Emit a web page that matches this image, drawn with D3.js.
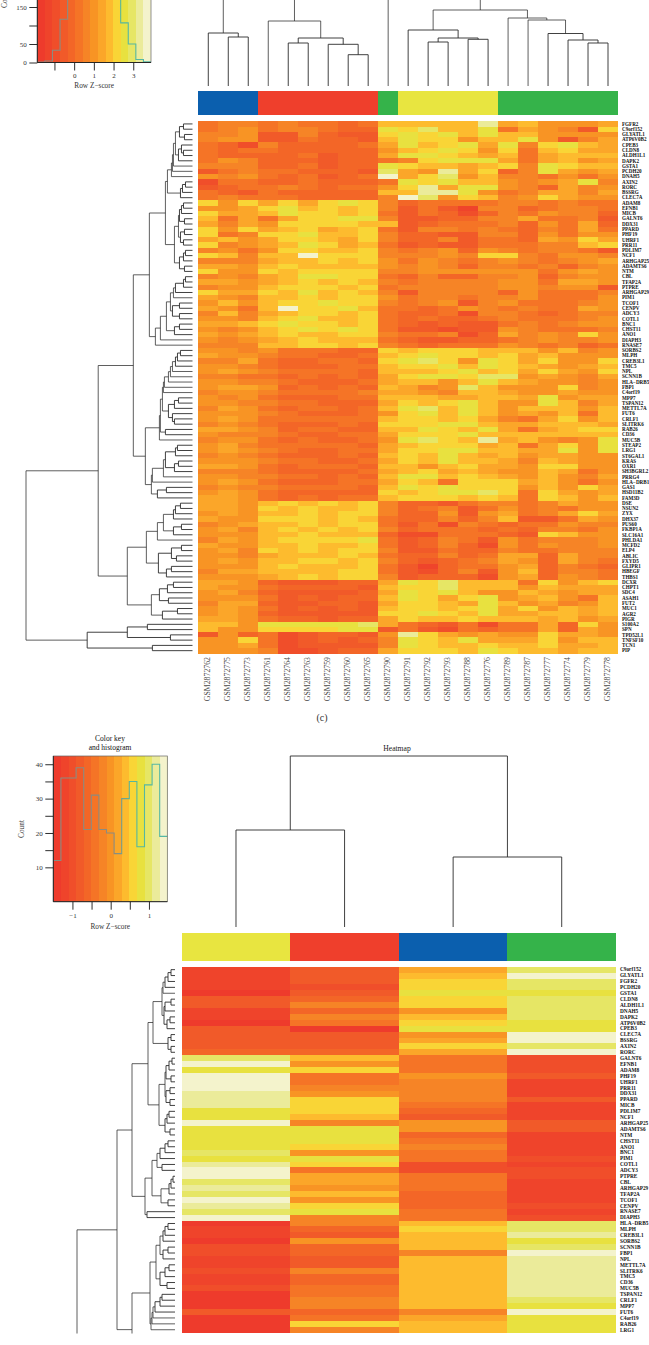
<!DOCTYPE html>
<html><head><meta charset="utf-8">
<script src="https://cdnjs.cloudflare.com/ajax/libs/d3/7.8.5/d3.min.js"></script>
<style>
html,body{margin:0;padding:0;background:#fff;overflow:hidden}
svg{display:block;opacity:.999}
text{font-family:"Liberation Serif",serif}
</style></head><body><svg id="c" width="649" height="1345"></svg>
<script>
// colour levels, low to high z-score
const palette=["#ee3b2c","#ef442b","#f04e2a","#f15a29","#f36627","#f57426","#f68426","#f89424","#fba629","#fdbb2e","#f9d536","#e8e13f","#e6e665","#ebeb9a","#f4f3cc"];

const topSamples=["GSM2872762","GSM2872775","GSM2872773","GSM2872761","GSM2872764","GSM2872763","GSM2872759","GSM2872760","GSM2872765","GSM2872790","GSM2872791","GSM2872792","GSM2872793","GSM2872788","GSM2872776","GSM2872789","GSM2872787","GSM2872777","GSM2872774","GSM2872779","GSM2872778"];
const topGroups=["#0b5fae","#0b5fae","#0b5fae","#ef3f2c","#ef3f2c","#ef3f2c","#ef3f2c","#ef3f2c","#ef3f2c","#35b34a","#e8e540","#e8e540","#e8e540","#e8e540","#e8e540","#35b34a","#35b34a","#35b34a","#35b34a","#35b34a","#35b34a"];
const topGenes=["FGFR2","C9orf152","GLYATL1","ATP6V0B2","CPEB3","CLDN8","ALDH1L1","DAPK2","GSTA1","PCDH20","DNAH5","AXIN2","RORC","BSSRG","CLEC7A",
"ADAM8","EFNB1","MICB","GALNT6","DDX31","PPARD","PHF19","UHRF1","PRR11","PDLIM7","NCF1","ARHGAP25","ADAMTS6","NTM","CBL","TFAP2A","PTPRE","ARHGAP29","PIM1","TCOF1","CENPV","ADCY3","COTL1","BNC1","CHST11","ANO1","DIAPH3","RNASE7",
"SORBS2","MLPH","CREB3L1","TMC5","NPL","SCNN1B","HLA\u2212DRB5","FBP1","C4orf19","MPP7","TSPAN12","METTL7A","FUT6","CRLF1","SLITRK6","RAB26","CD36","MUC5B","STEAP2","LRG1","ST6GAL1","KRAS","OXR1","SH3BGRL2","PRRG4","HLA\u2212DRB1","GAS1","HSD11B2","FAM3D",
"DSE","NSUN2","ZYX","DHX37","PUS60","FKBP1A","SLC16A1","PHLDA1","MCFD2","ELP4","ABLIC","FXYD5","GLIPR1","HBEGF","THBS1",
"DCXR","CHPT1","SDC4","ASAH1","FUT2","MUC1","AGR2","PIGR","S100A2","SPN","TPD52L1","TNFSF10","TCN1","PIP"];
const topLevels=[
"566 565 545 9 9999d 897778","567 566 544 b ac99b 58763a","667 336 433 a bab9b 997777","677 335 443 9 baa79 9b7368","542 644 445 8 b9ab8 b6ab98",
"545 544 444 7 9aba7 a59a88","544 445 344 8 bba98 958999","576 444 344 5 6abbb 858978","666 445 344 b a9989 a6ba99","356 554 443 c 87d8a 46b878",
"767 545 345 e 8ac79 665757","255 445 444 5 bab99 7678b6","345 565 455 7 ad8bb 764867","543 544 444 9 9ddb7 568868","565 554 444 6 ec7a9 67a877",
"a7a 8a8 aba 6 45555 665655","778 ab9 a9a 6 35316 645665","a88 9ba a9a 5 35424 657664","958 58a abb 6 33446 685563","868 7aa aa9 9 34555 647584",
"a7a 89a 89a 5 36656 546585","a56 aab 99a 6 44336 647577","897 8aa 98a 6 44635 5487a8","a67 89b a89 5 34335 55669a","675 7aa 99a 6 56747 656653",
"a96 99e aaa 6 6676a a65776","666 899 a9a 7 57656 765678","887 9a9 999 7 67646 656467","a77 a9a aaa 6 67777 775787","676 89b baa 5 46446 674677",
"887 89a 9a9 6 56666 775887","677 9aa a9a 5 66666 776773","a88 a9b 9a9 6 36666 475556","876 99a 9aa 7 56656 675557","797 9aa baa 6 56736 755567",
"875 9ea ab9 5 54576 565587","696 89a a9a 5 44526 654566","776 9ab 99a 5 45445 655567","889 aba a9a 5 43433 565677","767 9ab aba 5 33233 765556",
"878 9a9 9aa 6 55624 8676a7","767 89a 999 5 43344 567667","666 99a a9a 6 54555 765645",
"776 755 544 a 9aaa9 997967","877 655 445 9 abaa9 a89777","668 544 554 a bca7b a8a77a","776 544 455 9 aab9b a98789","787 655 554 9 99ab9 a8a87a",
"665 545 454 8 abbac c78768","776 654 445 8 9979b 987767","788 745 454 9 867c9 777a67","677 655 556 8 87699 877877","767 544 455 9 99889 98b788",
"776 655 444 8 a9ab9 77b968","687 545 545 9 bc9b9 799979","777 654 445 7 ab9b9 787959","787 555 555 9 aa9a8 658a79","676 544 454 a aabb9 889998",
"887 645 544 9 9ba9b 8589aa","766 654 455 8 aaab9 999999","677 545 445 7 bca9d 89767b","786 555 554 8 9aaa8 958a7b","787 654 455 8 aabb9 988b7b",
"676 544 454 9 a9b98 978877","777 655 445 8 a9b99 869877","887 545 554 9 979a8 87aa77","666 544 445 8 9a898 779857","776 655 454 9 bb9a9 879768",
"787 544 455 8 a95aa a89757","676 655 554 9 babaa a797a8","787 544 444 a 9abbc a5a878","887 545 455 9 aaa9a 95a979",
"887 9a9 a9a 6 44356 656877","887 a9a 99a 6 45635 756577","787 99a 9aa 6 44737 8568a8","877 aaa 9a9 5 44646 933587","678 99a 9aa 5 35265 455766",
"786 9a9 a9a 6 45554 546657","777 99a 999 4 22555 43a977","687 9aa aab 5 34653 756667","877 99a 99a 5 34642 757667","786 a9a 9aa 6 33544 655666",
"776 899 9a9 5 44645 884866","787 99a a9a 6 43456 874865","777 9a9 99a 5 31455 784654","688 999 9aa 5 32463 794665","777 89a 9aa 6 34442 784765",
"887 433 344 8 bac99 95a79a","877 544 443 9 aac99 979888","786 433 334 8 bab97 798788","777 534 344 9 ba8ab 789759","688 433 443 8 aa98b 978679",
"787 534 343 9 aa9ab 8a7989","787 433 333 a aba9b 889989","887 544 344 8 a99a9 998978","997 bbb bbc 8 54352 5584a7","977 aaa abb 3 53254 558487",
"374 523 443 7 da878 77a887","77a 523 434 6 ba9b8 88a799","778 523 333 6 ba99a 99a889","777 622 344 8 aaa9b a99899"
];
// nested merges: [height, left, right]; 0 marks a leaf, leaves run in row / column order
const topColTree=[150,[120,[100,[53,0,[49,0,0]],[65,0,[48,[43,0,0],[41.7,0,[31.3,0,0]]]]],0],
 [76,[56,0,[48,[44,0,0],[46.7,0,0]]],[68,0,[66,0,[52.5,0,[46,0,[43,0,0]]]]]]];
const topRowTree=[166,[94,[59,[43,
  [27,[25,[21,[20,[19,[17,[13,[9,0,0],[8,0,0]],[14,[11,0,[9,0,0]],0]],0],0],0],[12,[10,[7,0,0],0],0]],
      [18,[14,[13,[11,[9,0,0],0],[8,0,0]],[12,[8,0,0],[9,0,0]]],[13,[9,[7,0,0],0],[8,0,0]]]],
  [37,[32,[26,[22,[19,[17,[9,[7,0,0],0],0],0],[20,[13,0,0],[13,0,0]]],[18,[13,0,0],0]],0],0]],
 [47,[33,[32,[30,[29,[28,[24,[22,[20,[17,[15,[12,0,0],0],0],0],0],0],0],0],[24,[18,[14,0,0],0],[20,0,[18,0,0]]]],[27,0,0]],0],
     [41,[40,[29,[27,[17,[15,0,0],0],[18,[14,0,0],0]],0],0],[35,[26,0,0],0]]]],
 [65,[46,[35,[29,[19,[17,[12,0,0],0],0],[19,[11,0,0],0]],0],[34,[21,[11,0,0],[16,0,0]],[26,[21,0,0],0]]],
     [41,[33,[25,[19,0,0],0],[24,0,0]],[30,[15,0,0],0]]]],
 [105,[65,[45,0,0],[22,0,0]],[40,0,0]]];

const botGroups=["#e8e540","#ef3f2c","#0b5fae","#35b34a"];
const botGenes=["C9orf152","GLYATL1","FGFR2","PCDH20","GSTA1","CLDN8","ALDH1L1","DNAH5","DAPK2","ATP6V0B2","CPEB3","CLEC7A","BSSRG","AXIN2","RORC",
"GALNT6","EFNB1","ADAM8","PHF19","UHRF1","PRR11","DDX31","PPARD","MICB","PDLIM7","NCF1","ARHGAP25","ADAMTS6","NTM","CHST11","ANO1","BNC1","PIM1","COTL1","ADCY3","PTPRE","CBL","ARHGAP29","TFAP2A","TCOF1","CENPV","RNASE7","DIAPH3",
"HLA\u2212DRB5","MLPH","CREB3L1","SORBS2","SCNN1B","FBP1","NPL","METTL7A","SLITRK6","TMC5","CD36","MUC5B","TSPAN12","CRLF1","MPP7","FUT6","C4orf19","RAB26","LRG1"];
const botLevels=[
"138c","139e","13ac","12ac","03bb","34ac","36ac","147c","169c","05ab","30bb","337e","338e","33ac","448e",
"c952","e752","ba52","e573","e561","e661","d761","da63","da51","ba41","b931","e673","bb73","bb41","bb51","ba61",
"c751","bb52","da21","e522","e852","c851","d751","c941","e741","da42","cb51","e652",
"069c","14ac","139d","079b","249c","246e","139d","139d","269d","149d","149d","259d","059d","069c","069b","346e","058b","0a9b","069b"
];
const botColTree=[171,[97,0,0],[70,0,0]];
// the last merges of the row tree run past the lower edge of the figure
const botRowTree=[98,[58,[43,
  [27,[22,[13,[12,[10,[7,[4,0,0],0],0],0],[11,[10,[4,0,0],0],[8,[5,0,0],0]]],[7,[4,0,0],[4,0,0]]],
      [16,[10,[9,[6,[3,0,0],0],[4,0,0]],[9,[5,0,0],[5,0,0]]],[10,[8,[6,0,0],0],[5,0,0]]]],
  [30,[23,[18,[15,[10,[7,0,0],0],0],[13,0,0]],[14,[6,[4,[2,0,0],0],0],[7,0,0]]],[28,0,0]]],
 [43,[25,[19,[15,[12,[10,[7,0,0],0],0],[12,[7,0,0],0]],[15,[10,[6,0,0],0],[8,0,0]]],[24,[23,[22,[20,[15,[13,0,0],0],0],0],0],0]],
     [35,[15,[7,0,0],[8,[5,0,0],0]],[20,[9,[4,0,0],0],[10,[6,[3,0,0],0],[6,[3,0,0],0]]]]]],0];

const topHist=[1,4,33,117,215,300,340,330,310,290,230,107,50,8,2];
const botHist=[12,36,36,39,21,31,21,20,14,30,35,16,34,40,19];

const svg=d3.select("#c");
const defs=svg.append("defs");
const levelColor=d3.scaleOrdinal().domain(d3.range(15)).range(palette);
const serif='"Liberation Serif",serif', sans='"Liberation Sans",sans-serif';

function parseRows(rows){return rows.map(r=>r.replace(/ /g,"").split("").map(c=>parseInt(c,16)));}

function heatmap(levels,x0,x1,y0,y1){
  const m=parseRows(levels);
  const nc=m[0].length;
  const x=d3.scaleBand().domain(d3.range(nc)).range([x0,x1]);
  const y=d3.scaleBand().domain(d3.range(m.length)).range([y0,y1]);
  const g=svg.append("g").attr("shape-rendering","crispEdges");
  g.selectAll("g").data(m).join("g").each(function(row,i){
    d3.select(this).selectAll("rect").data(row).join("rect")
      .attr("x",(d,j)=>x(j)).attr("y",y(i))
      .attr("width",x.bandwidth()+.4).attr("height",y.bandwidth()+.4)
      .attr("fill",d=>levelColor(d));
  });
  return {x,y};
}
function colorBar(groups,x,y0,y1){
  svg.append("g").attr("shape-rendering","crispEdges").selectAll("rect").data(groups).join("rect")
    .attr("x",(d,i)=>x(i)).attr("y",y0).attr("width",x.bandwidth()+.4).attr("height",y1-y0).attr("fill",d=>d);
}
function geneLabels(genes,y,xp,fs){
  svg.append("g").selectAll("text").data(genes).join("text")
    .attr("x",xp).attr("y",(d,i)=>y(i)+y.bandwidth()/2).attr("dy","0.34em")
    .attr("font-size",fs).attr("font-weight",700).attr("fill","#111").attr("font-family",serif).text(d=>d);
}
function dendro(tree,opts){
  const root=d3.hierarchy(tree,d=>Array.isArray(d)?d.slice(1):null);
  let idx=0;
  root.eachAfter(n=>{
    n.h=n.children?n.data[0]:0;
    n.p=n.children?d3.mean(n.children,c=>c.p):opts.pos(idx++);
  });
  const path=n=>{
    const [a,b]=n.children;
    return opts.horizontal
     ? `M${opts.hs(a.h)},${a.p}H${opts.hs(n.h)}V${b.p}H${opts.hs(b.h)}`
     : `M${a.p},${opts.hs(a.h)}V${opts.hs(n.h)}H${b.p}V${opts.hs(b.h)}`;
  };
  const g=svg.append("g");
  if(opts.clip) g.attr("clip-path",`url(#${opts.clip})`);
  g.selectAll("path").data(root.descendants().filter(n=>n.children)).join("path")
    .attr("d",path).attr("fill","none").attr("stroke","#2b2b2b").attr("stroke-width",.95)
    .attr("stroke-opacity",n=>n.height>3?.8:.95);
}
function colorKey(o){
  const x=d3.scaleLinear().domain(o.xDomain).range([o.x0,o.x1]);
  const y=d3.scaleLinear().domain(o.yDomain).range([o.y0,o.y1]);
  const bin=d3.scaleBand().domain(d3.range(o.hist.length)).range([o.x0,o.x1]);
  const g=svg.append("g");
  g.append("g").attr("shape-rendering","crispEdges").selectAll("rect").data(o.hist).join("rect")
    .attr("x",(d,i)=>bin(i)).attr("y",o.y1).attr("width",bin.bandwidth()+.4).attr("height",o.y0-o.y1)
    .attr("fill",(d,i)=>levelColor(i));
  defs.append("linearGradient").attr("id",o.id).attr("gradientUnits","userSpaceOnUse")
    .attr("x1",o.x0).attr("x2",o.x1).attr("y1",0).attr("y2",0)
    .selectAll("stop").data([[0,"#8b8b80"],[.55,"#8b8b80"],[.68,"#55b79c"],[1,"#55b7a6"]]).join("stop")
    .attr("offset",d=>d[0]).attr("stop-color",d=>d[1]);
  let d=`M${o.x0},${y(o.hist[0])}`;
  o.hist.forEach((v,i)=>{d+=`V${y(v)}H${bin(i)+bin.bandwidth()}`;});
  g.append("path").attr("d",d).attr("fill","none").attr("stroke",`url(#${o.id})`).attr("stroke-width",1.1);
  g.append("rect").attr("x",o.x0).attr("y",o.y1).attr("width",o.x1-o.x0).attr("height",o.y0-o.y1)
    .attr("fill","none").attr("stroke","#666").attr("stroke-width",.7);
  const style=(a)=>{a.selectAll("text").attr("font-family",serif).attr("font-size",7).attr("fill","#333");
    a.selectAll("line").attr("stroke","#222").attr("stroke-width",.95);
    a.select(".domain").attr("stroke","#222").attr("stroke-width",.95);};
  const fmt=v=>o.xLabeled.includes(v)?String(v).replace("-","\u2212"):"";
  const ax=g.append("g").attr("transform",`translate(0,${o.y0})`)
    .call(d3.axisBottom(x).tickValues(o.xTicks).tickSize(8).tickPadding(3).tickFormat(fmt).tickSizeOuter(0)).call(style);
  ax.select(".domain").attr("d",`M${o.x0},0H${o.x1}`);
  const ay=g.append("g").attr("transform",`translate(${o.x0},0)`)
    .call(d3.axisLeft(y).tickValues(o.yTicks).tickSize(8).tickPadding(2.5).tickSizeOuter(0)
      .tickFormat(v=>o.yLabeled.includes(v)?v:"")).call(style);
  ay.select(".domain").attr("d",`M0,${o.y1}V${o.y0}`);
  g.append("text").attr("x",(o.x0+o.x1)/2).attr("y",o.y0+o.labelDy).attr("text-anchor","middle")
    .attr("font-size",7.3).attr("fill","#333").attr("font-family",serif).text("Row Z\u2212score");
  g.append("text").attr("transform",`translate(${o.countX},${o.countY}) rotate(-90)`).attr("text-anchor","middle")
    .attr("font-size",7.3).attr("fill","#333").attr("font-family",serif).text("Count");
}

// ---------- upper figure
const topHeat=heatmap(topLevels,198.3,618,121.3,653.3);
colorBar(topGroups,topHeat.x,91.3,115);
geneLabels(topGenes,topHeat.y,622,5.1);
const sampleG=svg.append("g");
sampleG.selectAll("text").data(topSamples).join("text")
  .attr("transform",(d,i)=>`translate(${topHeat.x(i)+topHeat.x.bandwidth()/2+2},657) rotate(-90)`)
  .attr("text-anchor","end").attr("font-family",sans).attr("font-size",7.8).attr("fill","#4a4a4a").text(d=>d);
dendro(topColTree,{pos:i=>topHeat.x(i)+topHeat.x.bandwidth()/2,hs:d3.scaleLinear().domain([0,86]).range([86,0])});
dendro(topRowTree,{horizontal:true,pos:i=>topHeat.y(i)+topHeat.y.bandwidth()/2,hs:d3.scaleLinear().domain([0,166]).range([192.5,26])});
svg.append("text").attr("x",322).attr("y",721).attr("text-anchor","middle").attr("font-family",'"Open Sans",sans-serif')
  .attr("font-size",10).attr("fill","#333").text("(c)");
colorKey({id:"hTop",hist:topHist,x0:37.3,x1:151,y0:62.5,y1:-20,xDomain:[-1.87,3.9],yDomain:[0,223],
  xTicks:[-1,0,1,2,3],xLabeled:[0,1,2,3],yTicks:[0,50,100,150],yLabeled:[0,50,150],labelDy:25.5,countX:7,countY:-1});

// ---------- lower figure
defs.append("clipPath").attr("id","lowerClip").append("rect").attr("x",0).attr("y",730).attr("width",649).attr("height",603.5);
const botHeat=heatmap(botLevels,181.7,616,966.7,1332.7);
colorBar(botGroups,botHeat.x,933,961.3);
geneLabels(botGenes,botHeat.y,620,5.3);
dendro(botColTree,{pos:i=>botHeat.x(i)+botHeat.x.bandwidth()/2,hs:d3.scaleLinear().domain([0,171]).range([927,756])});
dendro(botRowTree,{horizontal:true,clip:"lowerClip",pos:i=>966.7+(i+.5)*(366/62),hs:d3.scaleLinear().domain([0,98]).range([175,77])});
svg.append("text").attr("x",397).attr("y",750.5).attr("text-anchor","middle").attr("font-family",serif).attr("font-size",7.6).attr("fill","#222").text("Heatmap");
colorKey({id:"hBot",hist:botHist,x0:53.3,x1:167.3,y0:901.7,y1:756,xDomain:[-1.5,1.48],yDomain:[0,42.4],
  xTicks:[-1,-.5,0,.5,1],xLabeled:[-1,0,1],yTicks:[10,15,20,25,30,35,40],yLabeled:[10,20,30,40],labelDy:27.5,countX:24,countY:829});
svg.append("text").attr("x",110).attr("y",741).attr("text-anchor","middle").attr("font-family",serif).attr("font-size",7.5).attr("fill","#111").text("Color key");
svg.append("text").attr("x",110).attr("y",750).attr("text-anchor","middle").attr("font-family",serif).attr("font-size",7.5).attr("fill","#111").text("and histogram");
</script></body></html>
